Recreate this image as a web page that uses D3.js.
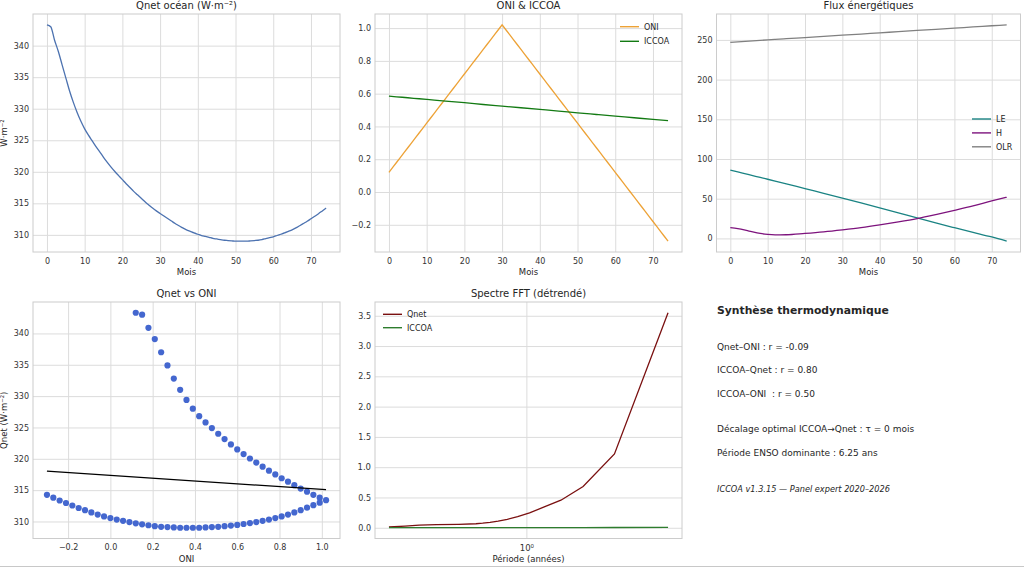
<!DOCTYPE html>
<html>
<head>
<meta charset="utf-8">
<script src="https://cdn.jsdelivr.net/npm/d3@7"></script>
<style>
  body { margin: 0; background: #fff; }
  text { font-family: "DejaVu Sans", sans-serif; fill: #262626; }
</style>
</head>
<body>
<svg id="fig" width="1024" height="567"></svg>
<script>
// valeurs (mois 0..74)
const qnet = [
  343.3, 343.0, 340.9, 339.1, 337.0, 334.9, 332.8, 331.0, 329.4, 328.0,
  326.8, 325.8, 324.9, 324.0, 323.15, 322.3, 321.5, 320.75, 320.05, 319.4,
  318.75, 318.1, 317.5, 316.9, 316.35, 315.8, 315.25, 314.75, 314.25, 313.8,
  313.4, 313.0, 312.6, 312.2, 311.8, 311.45, 311.1, 310.8, 310.55, 310.3,
  310.1, 309.9, 309.75, 309.6, 309.45, 309.35, 309.25, 309.15, 309.1, 309.05,
  309.0, 309.0, 309.0, 309.0, 309.05, 309.1, 309.15, 309.25, 309.4, 309.55,
  309.7, 309.9, 310.1, 310.3, 310.55, 310.8, 311.1, 311.45, 311.8, 312.15,
  312.55, 312.95, 313.35, 313.8, 314.25
]
const oni = [
  0.12, 0.15, 0.18, 0.21, 0.24, 0.27, 0.30, 0.33, 0.36, 0.39,
  0.42, 0.45, 0.48, 0.51, 0.54, 0.57, 0.60, 0.63, 0.66, 0.69,
  0.72, 0.75, 0.78, 0.81, 0.84, 0.87, 0.90, 0.93, 0.96, 0.99,
  1.02, 0.99, 0.96, 0.93, 0.90, 0.87, 0.84, 0.81, 0.78, 0.75,
  0.72, 0.69, 0.66, 0.63, 0.60, 0.57, 0.54, 0.51, 0.48, 0.45,
  0.42, 0.39, 0.36, 0.33, 0.30, 0.27, 0.24, 0.21, 0.18, 0.15,
  0.12, 0.09, 0.06, 0.03, 0.00, -0.03, -0.06, -0.09, -0.12, -0.15,
  -0.18, -0.21, -0.24, -0.27, -0.30
]
const mois = d3.range(qnet.length)

// séries plus lisses, relevées sur quelques mois
const moisEch = [0, 2, 5, 8, 10, 12, 15, 20, 25, 30, 35, 40, 45, 50, 55, 60, 65, 70, 74]
const iccoa = [0.585, 0.581, 0.575, 0.569, 0.565, 0.561, 0.555, 0.545, 0.534, 0.524,
               0.514, 0.504, 0.494, 0.483, 0.473, 0.463, 0.453, 0.443, 0.436]
const fluxLE = [86, 83.7, 80.2, 76.8, 74.5, 72.2, 68.7, 62.7, 56.8, 50.8,
                44.7, 38.5, 32.2, 25.7, 19.5, 13.5, 7.6, 1.8, -3.5]
const fluxH = [13.5, 12.4, 9.3, 6.2, 5.0, 4.5, 4.6, 6.3, 8.3, 10.8,
               13.6, 17, 20.8, 25, 30, 35.4, 41, 47.2, 51.8]
const fluxOLR = [247, 247.6, 248.5, 249.4, 250, 250.6, 251.5, 252.9, 254.4, 255.9,
                 257.4, 258.9, 260.4, 261.9, 263.3, 264.8, 266.3, 267.8, 269]

// spectre FFT
const periodes = [6.25, 3.125, 2.083, 1.563, 1.25, 1.042, 0.893, 0.781, 0.694, 0.625,
                  0.568, 0.521, 0.417, 0.313, 0.25, 0.208, 0.169]
const ampQnet = [3.55, 1.22, 0.68, 0.455, 0.34, 0.245, 0.185, 0.14, 0.11, 0.088,
                 0.075, 0.066, 0.056, 0.05, 0.042, 0.028, 0.012]
const ampIccoa = [0.006, 0.004, 0.003, 0.002, 0.002, 0.002, 0.001, 0.001, 0.001, 0.001,
                  0.001, 0.001, 0.001, 0.001, 0.001, 0.001, 0.001]

const synthese = [
  "Qnet–ONI : r = -0.09",
  "ICCOA–Qnet : r = 0.80",
  "ICCOA–ONI  : r = 0.50",
  "Décalage optimal ICCOA→Qnet : τ = 0 mois",
  "Période ENSO dominante : 6.25 ans"
]

const svg = d3.select("#fig")

// marge de 5% façon matplotlib
function marge(ext) {
  const d = ext[1] - ext[0]
  return [ext[0] - d * 0.05, ext[1] + d * 0.05]
}

function cadre(b, x, y, xt, yt, fx, fy) {
  x.range([b.l, b.r])
  y.range([b.b, b.t])
  const g = svg.append("g")
  g.append("g")
    .attr("transform", `translate(0,${b.b})`)
    .call(d3.axisBottom(x).tickValues(xt).tickSize(-(b.b - b.t)).tickPadding(6).tickFormat(fx))
  g.append("g")
    .attr("transform", `translate(${b.l},0)`)
    .call(d3.axisLeft(y).tickValues(yt).tickSize(-(b.r - b.l)).tickPadding(4).tickFormat(fy))
  g.selectAll(".domain").remove()
  g.selectAll(".tick line").attr("stroke", "#dcdcdc").attr("stroke-width", 1)
  g.selectAll(".tick text").attr("font-size", 8).attr("font-family", "DejaVu Sans").style("fill", "#333")
  g.append("rect")
    .attr("x", b.l).attr("y", b.t)
    .attr("width", b.r - b.l).attr("height", b.b - b.t)
    .attr("fill", "none").attr("stroke", "#cccccc")
  return g
}

function titre(b, txt) {
  svg.append("text")
    .attr("x", (b.l + b.r) / 2).attr("y", b.t - 5)
    .attr("text-anchor", "middle").attr("font-size", 10)
    .text(txt)
}

function labelX(b, txt) {
  svg.append("text")
    .attr("x", (b.l + b.r) / 2).attr("y", b.b + 23)
    .attr("text-anchor", "middle").attr("font-size", 8.5)
    .text(txt)
}

function labelY(b, txt) {
  svg.append("text")
    .attr("transform", `translate(6.5,${(b.t + b.b) / 2}) rotate(-90)`)
    .attr("text-anchor", "middle").attr("font-size", 8.5)
    .text(txt)
}

function legende(x0, y0, items) {
  items.forEach((it, i) => {
    const y = y0 + i * it.pas
    svg.append("line")
      .attr("x1", x0).attr("x2", x0 + 19).attr("y1", y).attr("y2", y)
      .attr("stroke", it.c).attr("stroke-width", 1.4)
    svg.append("text")
      .attr("x", x0 + 24).attr("y", y).attr("dy", "0.35em")
      .attr("font-size", 8).text(it.nom)
  })
}

function trace(g, xs, ys, x, y, c, courbe) {
  g.append("path")
    .datum(xs.map((d, i) => [d, ys[i]]))
    .attr("fill", "none").attr("stroke", c).attr("stroke-width", 1.3)
    .attr("d", d3.line().curve(courbe || d3.curveLinear).x(d => x(d[0])).y(d => y(d[1])))
}

const f1 = d3.format(".1f")
const f0 = d3.format("d")

// 1. Qnet océan
const b1 = { l: 33, r: 340, t: 14, b: 252 }
const x1 = d3.scaleLinear().domain(marge(d3.extent(mois)))
const y1 = d3.scaleLinear().domain(marge(d3.extent(qnet)))
const g1 = cadre(b1, x1, y1, d3.range(0, 71, 10), d3.range(310, 341, 5), f0, f0)
trace(g1, mois, qnet, x1, y1, "#4c72b0", d3.curveMonotoneX)
titre(b1, "Qnet océan (W·m⁻²)")
labelX(b1, "Mois")
labelY(b1, "W·m⁻²")

// 2. ONI & ICCOA
const b2 = { l: 375, r: 682, t: 14, b: 252 }
const x2 = d3.scaleLinear().domain(marge(d3.extent(mois)))
const y2 = d3.scaleLinear().domain(marge(d3.extent(oni.concat(iccoa))))
const g2 = cadre(b2, x2, y2, d3.range(0, 71, 10), [-0.2, 0, 0.2, 0.4, 0.6, 0.8, 1.0], f0, f1)
trace(g2, mois, oni, x2, y2, "#eda236")
trace(g2, moisEch, iccoa, x2, y2, "#137a13", d3.curveMonotoneX)
titre(b2, "ONI & ICCOA")
labelX(b2, "Mois")
legende(620, 26.7, [{ nom: "ONI", c: "#eda236", pas: 14.6 }, { nom: "ICCOA", c: "#137a13", pas: 14.6 }])

// 3. Flux énergétiques
const b3 = { l: 716.5, r: 1020.5, t: 14, b: 252 }
const x3 = d3.scaleLinear().domain(marge(d3.extent(moisEch)))
const y3 = d3.scaleLinear().domain(marge(d3.extent(fluxLE.concat(fluxH, fluxOLR))))
const g3 = cadre(b3, x3, y3, d3.range(0, 71, 10), d3.range(0, 251, 50), f0, f0)
trace(g3, moisEch, fluxLE, x3, y3, "#1a8383", d3.curveMonotoneX)
trace(g3, moisEch, fluxH, x3, y3, "#7d137d", d3.curveMonotoneX)
trace(g3, moisEch, fluxOLR, x3, y3, "#808080", d3.curveMonotoneX)
titre(b3, "Flux énergétiques")
labelX(b3, "Mois")
legende(972, 119, [
  { nom: "LE", c: "#1a8383", pas: 13.9 },
  { nom: "H", c: "#7d137d", pas: 13.9 },
  { nom: "OLR", c: "#808080", pas: 13.9 }
])

// 4. Qnet vs ONI
const b4 = { l: 33, r: 340, t: 302, b: 538.5 }
const x4 = d3.scaleLinear().domain(marge(d3.extent(oni)))
const y4 = d3.scaleLinear().domain(marge(d3.extent(qnet)))
const g4 = cadre(b4, x4, y4, [-0.2, 0, 0.2, 0.4, 0.6, 0.8, 1.0], d3.range(310, 341, 5), f1, f0)
g4.selectAll("circle.pt")
  .data(oni.map((d, i) => [d, qnet[i]]))
  .enter().append("circle").attr("class", "pt")
  .attr("cx", d => x4(d[0])).attr("cy", d => y4(d[1]))
  .attr("r", 3.1).attr("fill", "#4467cf")
// droite de régression (moindres carrés)
const mx = d3.mean(oni), my = d3.mean(qnet)
const pente = d3.sum(oni, (d, i) => (d - mx) * (qnet[i] - my)) / d3.sum(oni, d => (d - mx) ** 2)
const ext4 = d3.extent(oni)
trace(g4, ext4, ext4.map(d => my + pente * (d - mx)), x4, y4, "#000")
titre(b4, "Qnet vs ONI")
labelX(b4, "ONI")
labelY(b4, "Qnet (W·m⁻²)")

// 5. Spectre FFT
const b5 = { l: 375, r: 682, t: 302, b: 538.5 }
const lg = d3.extent(periodes).map(Math.log10)
const x5 = d3.scaleLog().domain(marge(lg).map(d => Math.pow(10, d)))
const y5 = d3.scaleLinear().domain(marge([0, d3.max(ampQnet)]))
const g5 = cadre(b5, x5, y5, [1], d3.range(0, 3.6, 0.5), () => "10⁰", f1)
g5.selectAll(".tick text").filter(d => d === 1).attr("font-size", 8.5)
trace(g5, periodes, ampQnet, x5, y5, "#7a1010")
trace(g5, periodes, ampIccoa, x5, y5, "#2e7d2e")
titre(b5, "Spectre FFT (détrendé)")
labelX(b5, "Période (années)")
legende(383, 314.3, [{ nom: "Qnet", c: "#7a1010", pas: 13.4 }, { nom: "ICCOA", c: "#2e7d2e", pas: 13.4 }])

// 6. Synthèse
svg.append("text")
  .attr("x", 717).attr("y", 314)
  .attr("font-size", 10.8).attr("font-weight", "bold")
  .text("Synthèse thermodynamique")
const lignesY = [349.7, 373, 397, 432, 456.3]
svg.selectAll("text.syn")
  .data(synthese)
  .enter().append("text").attr("class", "syn")
  .attr("x", 717).attr("y", (d, i) => lignesY[i])
  .attr("font-size", 9).style("white-space", "pre")
  .text(d => d)
svg.append("text")
  .attr("x", 717).attr("y", 492)
  .attr("font-size", 8.2).attr("font-style", "italic")
  .text("ICCOA v1.3.15 — Panel expert 2020–2026")

svg.append("line")
  .attr("x1", 0).attr("x2", 1024).attr("y1", 566.5).attr("y2", 566.5)
  .attr("stroke", "#c8c8c8")
</script>
</body>
</html>
